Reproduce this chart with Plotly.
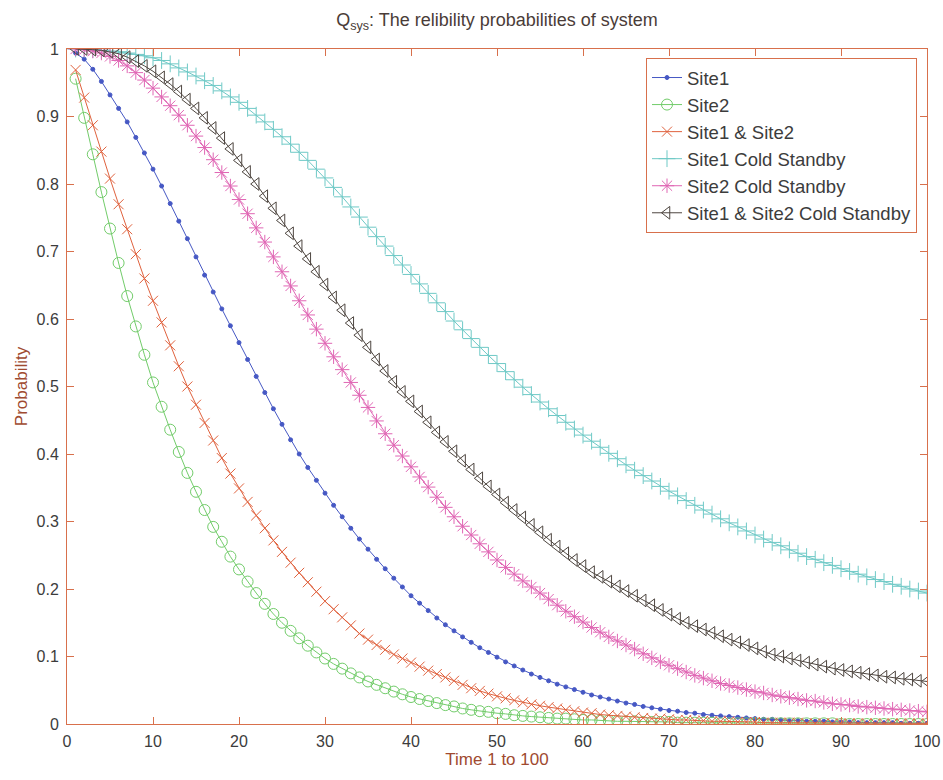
import plotly.graph_objects as go

# time axis: one sample per unit time, 1..100
t = list(range(1, 101))

site1 = [
    0.994, 0.985, 0.970, 0.952, 0.932, 0.912, 0.892, 0.869, 0.846, 0.822,
    0.797, 0.771, 0.745, 0.719, 0.692, 0.665, 0.640, 0.615, 0.590, 0.565,
    0.540, 0.515, 0.491, 0.467, 0.444, 0.421, 0.400, 0.380, 0.361, 0.342,
    0.324, 0.307, 0.290, 0.274, 0.259, 0.244, 0.230, 0.216, 0.203, 0.190,
    0.179, 0.168, 0.157, 0.147, 0.138, 0.129, 0.121, 0.113, 0.106, 0.099,
    0.092, 0.086, 0.080, 0.074, 0.069, 0.064, 0.059, 0.055, 0.051, 0.047,
    0.043, 0.040, 0.037, 0.034, 0.031, 0.029, 0.026, 0.024, 0.022, 0.020,
    0.019, 0.017, 0.016, 0.014, 0.013, 0.012, 0.011, 0.010, 0.009, 0.008,
    0.007, 0.007, 0.006, 0.005, 0.005, 0.004, 0.004, 0.004, 0.003, 0.003,
    0.003, 0.002, 0.002, 0.002, 0.002, 0.002, 0.001, 0.001, 0.001, 0.001,
]

site2 = [
    0.956, 0.898, 0.844, 0.788, 0.734, 0.683, 0.634, 0.589, 0.547, 0.506,
    0.470, 0.436, 0.403, 0.372, 0.344, 0.317, 0.292, 0.270, 0.248, 0.229,
    0.211, 0.194, 0.178, 0.163, 0.150, 0.138, 0.127, 0.116, 0.106, 0.097,
    0.089, 0.082, 0.075, 0.069, 0.063, 0.058, 0.053, 0.048, 0.044, 0.040,
    0.037, 0.034, 0.031, 0.028, 0.026, 0.023, 0.021, 0.019, 0.018, 0.016,
    0.015, 0.013, 0.012, 0.011, 0.010, 0.009, 0.008, 0.008, 0.007, 0.006,
    0.006, 0.005, 0.005, 0.004, 0.004, 0.004, 0.003, 0.003, 0.003, 0.003,
    0.002, 0.002, 0.002, 0.002, 0.002, 0.001, 0.001, 0.001, 0.001, 0.001,
    0.001, 0.001, 0.001, 0.001, 0.001, 0.001, 0.001, 0.001, 0.001, 0.000,
    0.000, 0.000, 0.000, 0.000, 0.000, 0.000, 0.000, 0.000, 0.000, 0.000,
]

site12 = [
    0.969, 0.928, 0.887, 0.848, 0.808, 0.770, 0.733, 0.696, 0.660, 0.627,
    0.595, 0.561, 0.530, 0.500, 0.473, 0.446, 0.420, 0.394, 0.371, 0.349,
    0.329, 0.309, 0.290, 0.272, 0.255, 0.239, 0.224, 0.210, 0.196, 0.182,
    0.170, 0.158, 0.146, 0.134, 0.125, 0.117, 0.110, 0.103, 0.097, 0.091,
    0.085, 0.079, 0.074, 0.069, 0.064, 0.058, 0.053, 0.049, 0.045, 0.041,
    0.038, 0.035, 0.032, 0.029, 0.027, 0.025, 0.023, 0.021, 0.019, 0.017,
    0.016, 0.014, 0.013, 0.012, 0.011, 0.010, 0.009, 0.008, 0.008, 0.007,
    0.006, 0.006, 0.005, 0.005, 0.004, 0.004, 0.004, 0.003, 0.003, 0.003,
    0.002, 0.002, 0.002, 0.002, 0.002, 0.001, 0.001, 0.001, 0.001, 0.001,
    0.001, 0.001, 0.001, 0.001, 0.001, 0.001, 0.001, 0.001, 0.001, 0.001,
]

site1_cold = [
    1.000, 1.000, 0.999, 0.998, 0.997, 0.996, 0.994, 0.992, 0.990, 0.987,
    0.983, 0.978, 0.972, 0.966, 0.960, 0.953, 0.946, 0.938, 0.929, 0.921,
    0.912, 0.902, 0.892, 0.881, 0.870, 0.859, 0.847, 0.835, 0.822, 0.809,
    0.795, 0.781, 0.766, 0.751, 0.736, 0.722, 0.708, 0.694, 0.680, 0.666,
    0.652, 0.638, 0.624, 0.611, 0.597, 0.584, 0.571, 0.558, 0.546, 0.534,
    0.522, 0.510, 0.499, 0.488, 0.477, 0.467, 0.457, 0.447, 0.437, 0.428,
    0.419, 0.410, 0.401, 0.393, 0.384, 0.376, 0.368, 0.360, 0.352, 0.345,
    0.338, 0.331, 0.324, 0.317, 0.311, 0.304, 0.298, 0.292, 0.286, 0.280,
    0.274, 0.269, 0.264, 0.258, 0.253, 0.248, 0.244, 0.239, 0.235, 0.230,
    0.226, 0.222, 0.218, 0.214, 0.211, 0.207, 0.204, 0.200, 0.197, 0.194,
]

site2_cold = [
    1.000, 0.999, 0.997, 0.994, 0.989, 0.983, 0.975, 0.965, 0.954, 0.942,
    0.929, 0.916, 0.902, 0.887, 0.871, 0.854, 0.836, 0.817, 0.797, 0.777,
    0.756, 0.735, 0.714, 0.692, 0.670, 0.649, 0.627, 0.606, 0.585, 0.564,
    0.544, 0.525, 0.506, 0.487, 0.469, 0.449, 0.430, 0.413, 0.397, 0.381,
    0.366, 0.351, 0.336, 0.321, 0.307, 0.293, 0.280, 0.267, 0.255, 0.243,
    0.232, 0.222, 0.212, 0.203, 0.194, 0.185, 0.176, 0.167, 0.159, 0.151,
    0.143, 0.136, 0.129, 0.123, 0.117, 0.111, 0.104, 0.098, 0.092, 0.087,
    0.082, 0.077, 0.072, 0.068, 0.064, 0.060, 0.057, 0.054, 0.051, 0.048,
    0.046, 0.043, 0.041, 0.039, 0.037, 0.035, 0.034, 0.032, 0.030, 0.029,
    0.028, 0.026, 0.025, 0.024, 0.023, 0.022, 0.021, 0.020, 0.019, 0.018,
]

site12_cold = [
    1.000, 1.000, 0.999, 0.998, 0.996, 0.993, 0.988, 0.982, 0.975, 0.967,
    0.958, 0.948, 0.937, 0.925, 0.912, 0.898, 0.883, 0.868, 0.852, 0.835,
    0.818, 0.800, 0.782, 0.764, 0.746, 0.727, 0.708, 0.689, 0.670, 0.651,
    0.632, 0.613, 0.594, 0.576, 0.558, 0.540, 0.523, 0.507, 0.492, 0.478,
    0.463, 0.447, 0.432, 0.418, 0.404, 0.390, 0.377, 0.364, 0.352, 0.340,
    0.328, 0.317, 0.306, 0.295, 0.284, 0.273, 0.263, 0.253, 0.243, 0.234,
    0.225, 0.218, 0.211, 0.204, 0.197, 0.190, 0.183, 0.176, 0.169, 0.162,
    0.156, 0.150, 0.145, 0.140, 0.135, 0.130, 0.125, 0.121, 0.117, 0.112,
    0.107, 0.103, 0.100, 0.097, 0.094, 0.091, 0.088, 0.085, 0.082, 0.080,
    0.078, 0.076, 0.074, 0.072, 0.070, 0.069, 0.067, 0.066, 0.064, 0.063,
]

x_ticks = [0, 10, 20, 30, 40, 50, 60, 70, 80, 90, 100]
y_ticks = [0, 0.1, 0.2, 0.3, 0.4, 0.5, 0.6, 0.7, 0.8, 0.9, 1]
y_tick_text = ["0", "0.1", "0.2", "0.3", "0.4", "0.5", "0.6", "0.7", "0.8", "0.9", "1"]

series = [
    ("Site1", site1, "#4658c4", "circle", 4),
    ("Site2", site2, "#72cc6a", "circle-open", 11),
    ("Site1 & Site2", site12, "#e0623e", "x-thin-open", 10),
    ("Site1 Cold Standby", site1_cold, "#6ec9c6", "cross-thin-open", 12),
    ("Site2 Cold Standby", site2_cold, "#e066b4", "asterisk-open", 12),
    ("Site1 & Site2 Cold Standby", site12_cold, "#4e4640", "triangle-left-open", 11),
]

fig = go.Figure()
for name, vals, color, symbol, size in series:
    fig.add_trace(go.Scatter(
        x=t, y=vals, name=name, mode="lines+markers",
        line=dict(color=color, width=1),
        marker=dict(symbol=symbol, size=size, color=color,
                    line=dict(color=color, width=1)),
    ))

frame_color = "#d8704c"
tick_font = dict(family="Liberation Sans, Arial, sans-serif", size=16, color="#3c3c3c")
label_font = dict(family="Liberation Sans Narrow, Arial Narrow, Liberation Sans, sans-serif",
                  size=17, color="#a04a30")

fig.update_layout(
    width=943, height=780,
    margin=dict(l=67, r=16, t=49, b=56, autoexpand=False),
    paper_bgcolor="white", plot_bgcolor="white",
    title=dict(
        text="Q<sub>sys</sub>: The relibility probabilities of system",
        x=(67 + 927) / 2 / 943, xanchor="center",
        y=1 - 20 / 780, yanchor="middle",
        font=dict(family="Liberation Sans Narrow, Arial Narrow, Liberation Sans, sans-serif",
                  size=18, color="#4a3c38"),
    ),
    xaxis=dict(
        range=[0, 100], tickvals=x_ticks, ticks="inside", ticklen=7,
        tickcolor=frame_color, showline=True, linecolor=frame_color, linewidth=1,
        mirror="ticks", showgrid=False, zeroline=False, tickfont=tick_font,
        ticklabelstandoff=3,
        title=dict(text="Time 1 to 100", font=label_font, standoff=1),
    ),
    yaxis=dict(
        range=[0, 1], tickvals=y_ticks, ticktext=y_tick_text, ticks="inside",
        ticklen=7, tickcolor=frame_color, showline=True, linecolor=frame_color,
        linewidth=1, mirror="ticks", showgrid=False, zeroline=False,
        tickfont=tick_font, ticklabelstandoff=4,
        title=dict(text="Probability", font=label_font, standoff=4),
    ),
    legend=dict(
        x=(917 - 67) / 860, xanchor="right", y=(724 - 58) / 675, yanchor="top",
        bgcolor="white", bordercolor=frame_color, borderwidth=1,
        font=dict(family="Liberation Sans, Arial, sans-serif", size=18.5, color="#3c3c3c"),
        tracegroupgap=0,
    ),
)

fig.write_html("out.html")
